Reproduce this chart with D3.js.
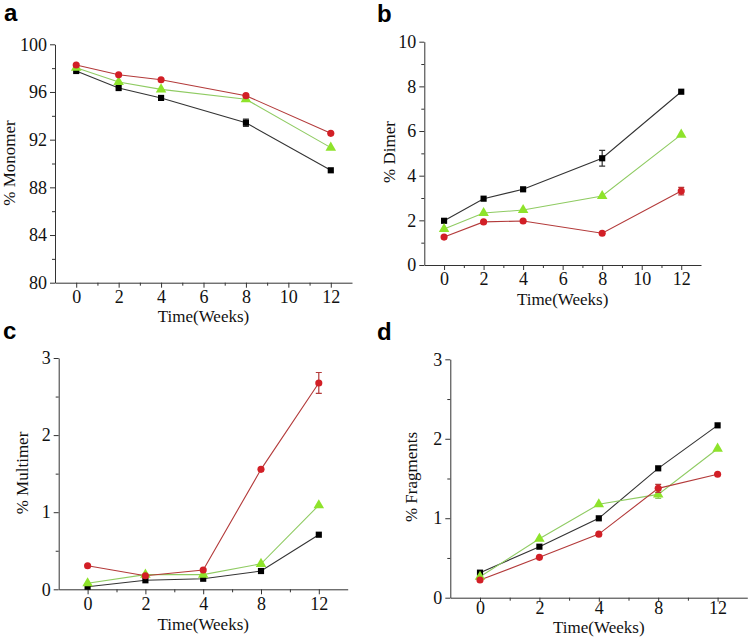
<!DOCTYPE html>
<html>
<head>
<meta charset="utf-8">
<script src="https://cdn.jsdelivr.net/npm/d3@7"></script>
<style>
  body { margin: 0; background: #fff; }
  .axis path, .axis line { stroke: #333; stroke-width: 1; }
  .axis text { font-family: "Liberation Serif", "Times New Roman", serif; font-size: 18px; fill: #111; }
  .lab { font-family: "Liberation Serif", "Times New Roman", serif; font-size: 17px; fill: #111; }
  .letter { font-family: "Liberation Sans", Arial, sans-serif; font-size: 24px; font-weight: bold; fill: #000; }
</style>
</head>
<body>
<div id="chart"></div>
<script>
(function() {
  var W = 750, H = 641;

  // data
  var weeks = [0, 2, 4, 8, 12];

  var monomerBlack = [97.76, 96.33, 95.5, 93.42, 89.43];
  var monomerRed   = [98.26, 97.45, 97.03, 95.69, 92.53];
  var monomerGreen = [98.04, 96.84, 96.22, 95.39, 91.33];
  var monomerErr   = [0.1, 0.1, 0.1, 0.3, 0.1];

  var dimerBlack = [1.98, 2.97, 3.39, 4.78, 7.76];
  var dimerRed   = [1.25, 1.93, 1.97, 1.42, 3.31];
  var dimerGreen = [1.61, 2.33, 2.46, 3.09, 5.84];
  var dimerErrBlack = [0.05, 0.05, 0.05, 0.35, 0.05];
  var dimerErrRed   = [0.05, 0.05, 0.05, 0.05, 0.17];

  var multimerBlack = [0.034, 0.117, 0.137, 0.237, 0.708];
  var multimerRed   = [0.306, 0.176, 0.25, 1.556, 2.676];
  var multimerGreen = [0.078, 0.19, 0.19, 0.33, 1.09];
  var multimerErrRed = [0.01, 0.01, 0.01, 0.01, 0.136];

  var fragBlack = [0.315, 0.642, 0.999, 1.628, 2.169];
  var fragRed   = [0.223, 0.508, 0.80, 1.376, 1.553];
  var fragGreen = [0.264, 0.742, 1.175, 1.30, 1.875];
  var fragErrRed   = [0.01, 0.01, 0.01, 0.05, 0.02];
  var fragErrGreen = [0.01, 0.01, 0.01, 0.05, 0.04];

  var xTicksLinear = [0, 2, 4, 6, 8, 10, 12];
  var xMinorLinear = [1, 3, 5, 7, 9, 11];

  var black = {line: "#333", fill: "#000", shape: d3.symbolSquare, size: 38};
  var red   = {line: "#b33a3a", fill: "#d21f26", shape: d3.symbolCircle, size: 40};
  var green = {line: "#8fcb62", fill: "#8ee32b", shape: d3.symbolTriangle, size: 48};

  var svg = d3.select("#chart")
    .append("svg")
    .attr("width", W)
    .attr("height", H);

  function panel(opt) {
    var g = svg.append("g");
    var x, xpos;
    if (opt.categorical) {
      // evenly spaced weeks, index based
      x = d3.scaleLinear().domain([-0.5, 4.5]).range(opt.xr);
      xpos = function(i) { return x(i); };
    } else {
      x = d3.scaleLinear().domain([-1, 13]).range(opt.xr);
      xpos = function(i) { return x(weeks[i]); };
    }
    var y = d3.scaleLinear().domain(opt.yd).range(opt.yr);

    // minor ticks first
    g.append("g")
      .attr("class", "axis")
      .attr("transform", "translate(" + opt.xr[0] + ",0)")
      .call(d3.axisLeft(y).tickValues(opt.yMinor).tickSize(3).tickFormat(""))
      .select(".domain").remove();
    var xMinor = opt.categorical ? [0.5, 1.5, 2.5, 3.5] : xMinorLinear;
    g.append("g")
      .attr("class", "axis")
      .attr("transform", "translate(0," + opt.yr[0] + ")")
      .call(d3.axisBottom(x).tickValues(xMinor).tickSize(3).tickFormat(""))
      .select(".domain").remove();

    g.append("g")
      .attr("class", "axis")
      .attr("transform", "translate(" + opt.xr[0] + ",0)")
      .call(d3.axisLeft(y).tickValues(opt.yTicks).tickFormat(d3.format("d"))
        .tickSize(5).tickSizeOuter(0).tickPadding(3));

    var xa;
    if (opt.categorical) {
      xa = d3.axisBottom(x).tickValues([0, 1, 2, 3, 4]).tickFormat(function(i) { return weeks[i]; });
    } else {
      xa = d3.axisBottom(x).tickValues(xTicksLinear);
    }
    g.append("g")
      .attr("class", "axis")
      .attr("transform", "translate(0," + opt.yr[0] + ")")
      .call(xa.tickSize(opt.xTick).tickSizeOuter(0).tickPadding(opt.xPad));

    // labels
    g.append("text")
      .attr("class", "lab")
      .attr("text-anchor", "middle")
      .attr("x", (opt.xr[0] + opt.xr[1]) / 2)
      .attr("y", opt.xlabY)
      .text("Time(Weeks)");
    g.append("text")
      .attr("class", "lab")
      .attr("text-anchor", "middle")
      .attr("transform", "translate(" + opt.ylabX + "," + opt.ylabY + ") rotate(-90)")
      .text(opt.ylab);
    g.append("text")
      .attr("class", "letter")
      .attr("x", opt.letter[0])
      .attr("y", opt.letter[1])
      .text(opt.name);

    var line = d3.line()
      .x(function(d, i) { return xpos(i); })
      .y(function(d) { return y(d); });

    opt.series.forEach(function(s) {
      g.append("path")
        .datum(s.values)
        .attr("fill", "none")
        .attr("stroke", s.style.line)
        .attr("stroke-width", 1.1)
        .attr("d", line);
    });

    opt.series.forEach(function(s) {
      if (s.err) {
        s.values.forEach(function(v, i) {
          var e = s.err[i];
          if (y(v - e) - y(v + e) < 7) return;
          var cx = xpos(i);
          g.append("path")
            .attr("fill", "none")
            .attr("stroke", s.style.line)
            .attr("stroke-width", 1.2)
            .attr("d", "M" + cx + "," + y(v - e) + "V" + y(v + e) +
                       "M" + (cx - 3) + "," + y(v - e) + "h6" +
                       "M" + (cx - 3) + "," + y(v + e) + "h6");
        });
      }
      g.selectAll(null)
        .data(s.values)
        .enter()
        .append("path")
        .attr("transform", function(d, i) { return "translate(" + xpos(i) + "," + y(d) + ")"; })
        .attr("d", d3.symbol().type(s.style.shape).size(s.style.size))
        .attr("fill", s.style.fill);
    });
  }

  panel({
    name: "a", letter: [4, 21],
    xr: [55, 352], yr: [282.7, 44.3], yd: [80, 100],
    yTicks: [80, 84, 88, 92, 96, 100], yMinor: [82, 86, 90, 94, 98],
    xTick: 5, xPad: 3,
    ylab: "% Monomer", ylabX: 15, ylabY: 163, xlabY: 322,
    series: [
      {values: monomerBlack, style: black, err: monomerErr},
      {values: monomerGreen, style: green},
      {values: monomerRed, style: red}
    ]
  });

  panel({
    name: "b", letter: [377, 22],
    xr: [424.3, 701], yr: [265, 41.7], yd: [0, 10],
    yTicks: [0, 2, 4, 6, 8, 10], yMinor: [1, 3, 5, 7, 9],
    xTick: 5, xPad: 2,
    ylab: "% Dimer", ylabX: 395, ylabY: 152, xlabY: 305,
    series: [
      {values: dimerBlack, style: black, err: dimerErrBlack},
      {values: dimerGreen, style: green},
      {values: dimerRed, style: red, err: dimerErrRed}
    ]
  });

  panel({
    name: "c", categorical: true, letter: [3, 339],
    xr: [58.7, 347.7], yr: [589.3, 358], yd: [0, 3],
    yTicks: [0, 1, 2, 3], yMinor: [0.5, 1.5, 2.5],
    xTick: 5, xPad: 3,
    ylab: "% Multimer", ylabX: 28, ylabY: 473, xlabY: 630,
    series: [
      {values: multimerBlack, style: black},
      {values: multimerGreen, style: green},
      {values: multimerRed, style: red, err: multimerErrRed}
    ]
  });

  panel({
    name: "d", categorical: true, letter: [377, 340],
    xr: [450.3, 747.3], yr: [597.7, 359.3], yd: [0, 3],
    yTicks: [0, 1, 2, 3], yMinor: [0.5, 1.5, 2.5],
    xTick: 4, xPad: 0,
    ylab: "% Fragments", ylabX: 417, ylabY: 477, xlabY: 633,
    series: [
      {values: fragBlack, style: black},
      {values: fragGreen, style: green, err: fragErrGreen},
      {values: fragRed, style: red, err: fragErrRed}
    ]
  });
})();
</script>
</body>
</html>
